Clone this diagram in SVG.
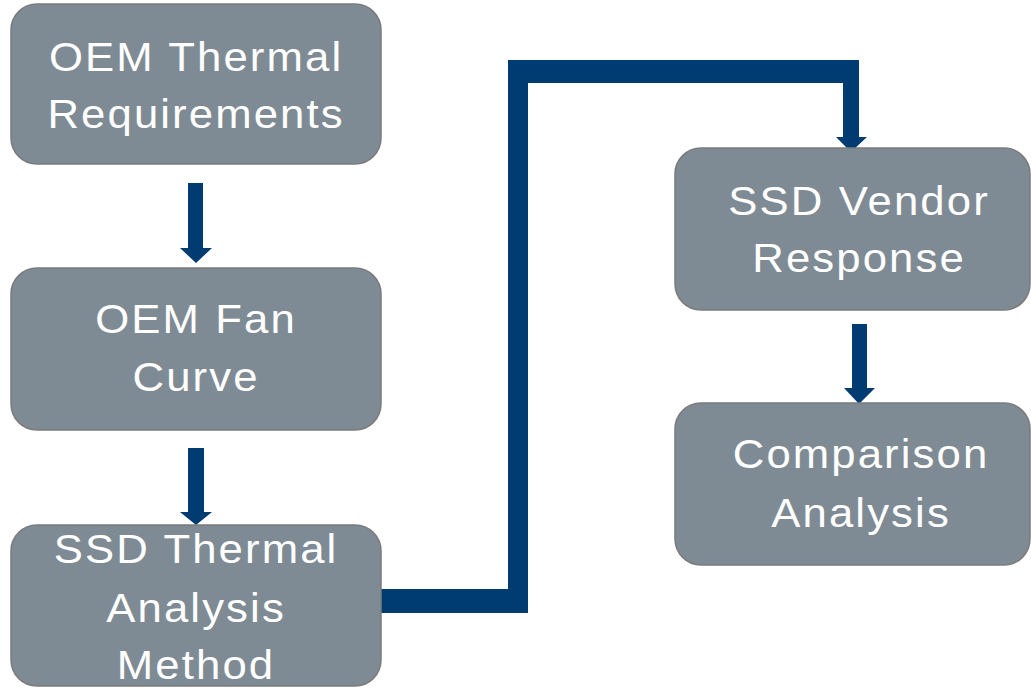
<svg xmlns="http://www.w3.org/2000/svg" width="1031" height="690" viewBox="0 0 1031 690">
  <style>
    .box { fill: #7f8b94; stroke: #7b7b7b; stroke-width: 1.5; }
    .lbl { fill: #ffffff; font-family: "Liberation Sans", Arial, sans-serif; font-size: 41px; letter-spacing: 2px; text-anchor: middle; }
    .conn { fill: #003c71; stroke: none; }
  </style>
  <rect width="1031" height="690" fill="#ffffff"/>
  <g id="connectors">
    <path class="conn" d="M188,183 H203 V248 H212 L196,263 L180,248 H188 Z"/>
    <path class="conn" d="M188,448 H204 V512 H212 L196,525 L180,512 H188 Z"/>
    <path class="conn" d="M381,589 H508 V60 H859 V137 H867 L851,152 L836,137 H843 V83 H528 V613 H381 Z"/>
    <path class="conn" d="M852,324 H867 V388 H875 L859,404 L844,388 H852 Z"/>
  </g>
  <g id="node-oem-thermal-requirements">
    <rect class="box" x="11" y="4" width="370" height="160" rx="26" ry="26"/>
    <g transform="translate(195,0) scale(1.065,1)">
      <text class="lbl" x="1" y="71">OEM Thermal</text>
      <text class="lbl" x="1" y="128">Requirements</text>
    </g>
  </g>
  <g id="node-oem-fan-curve">
    <rect class="box" x="11" y="268" width="370" height="162" rx="26" ry="26"/>
    <g transform="translate(195,0) scale(1.065,1)">
      <text class="lbl" x="1" y="333">OEM Fan</text>
      <text class="lbl" x="1" y="391">Curve</text>
    </g>
  </g>
  <g id="node-ssd-thermal-analysis-method">
    <rect class="box" x="11" y="525" width="370" height="161" rx="26" ry="26"/>
    <g transform="translate(195,0) scale(1.065,1)">
      <text class="lbl" x="1" y="563">SSD Thermal</text>
      <text class="lbl" x="1" y="622">Analysis</text>
      <text class="lbl" x="1" y="679">Method</text>
    </g>
  </g>
  <g id="node-ssd-vendor-response">
    <rect class="box" x="675" y="148" width="355" height="162" rx="26" ry="26"/>
    <g transform="translate(858,0) scale(1.065,1)">
      <text class="lbl" x="1" y="215">SSD Vendor</text>
      <text class="lbl" x="1" y="272">Response</text>
    </g>
  </g>
  <g id="node-comparison-analysis">
    <rect class="box" x="675" y="403" width="355" height="162" rx="26" ry="26"/>
    <g transform="translate(860,0) scale(1.065,1)">
      <text class="lbl" x="1" y="468">Comparison</text>
      <text class="lbl" x="1" y="527">Analysis</text>
    </g>
  </g>
</svg>
